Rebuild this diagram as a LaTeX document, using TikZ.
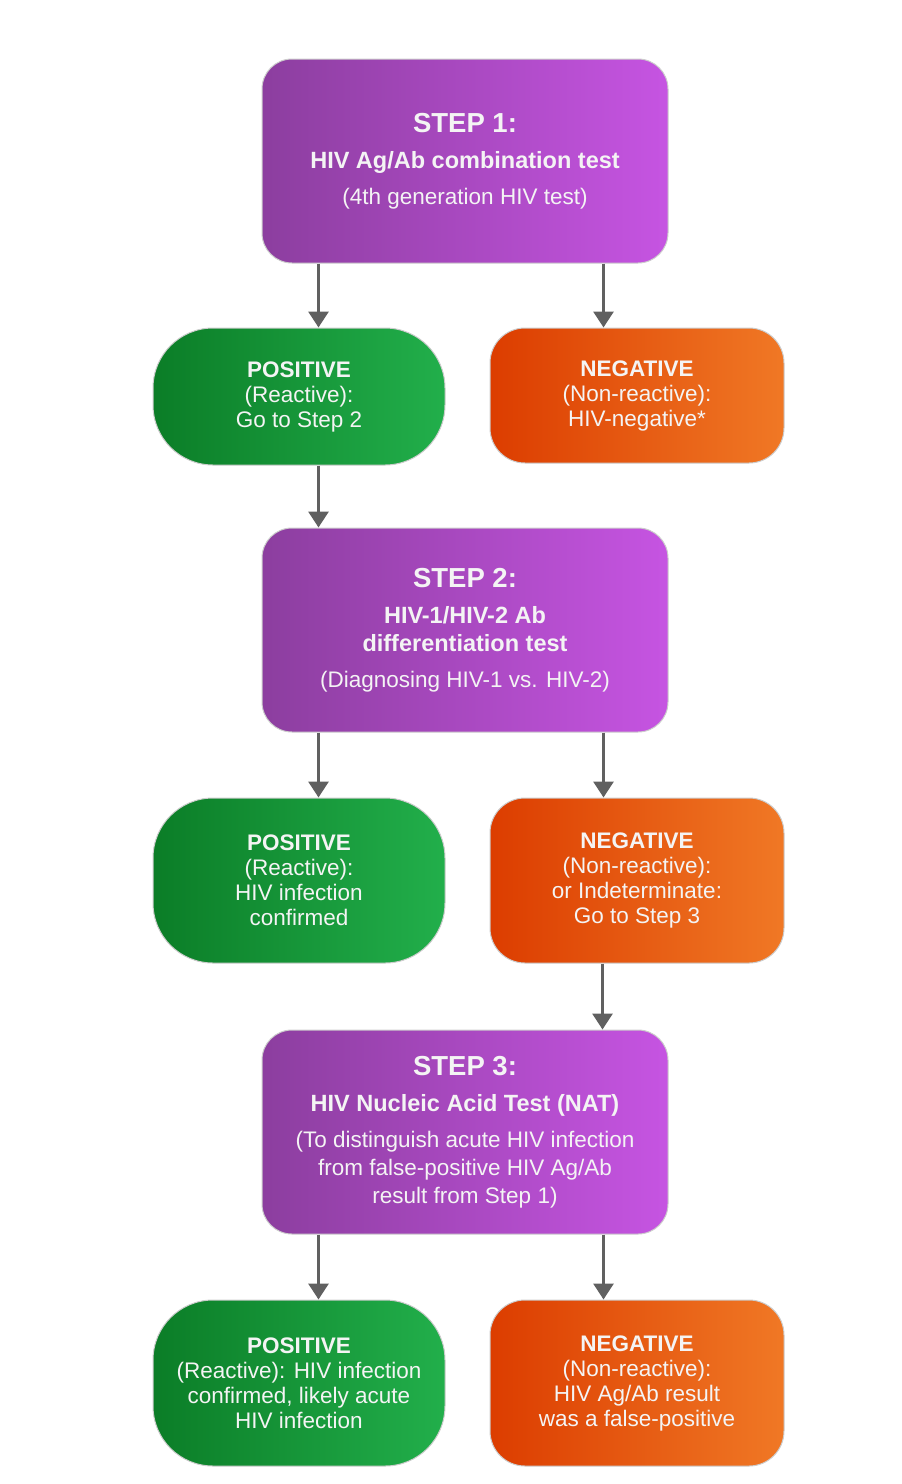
\documentclass[tikz,border=0pt]{standalone}
\usepackage{fontspec}
\setmainfont{Liberation Sans}
\usetikzlibrary{arrows.meta,calc}

\definecolor{stepdark}{HTML}{8C3E9F}
\definecolor{steplight}{HTML}{C654E2}
\definecolor{posdark}{HTML}{0B7D27}
\definecolor{poslight}{HTML}{22AF4B}
\definecolor{negdark}{HTML}{DC3D00}
\definecolor{neglight}{HTML}{F07825}
\definecolor{arrowgray}{HTML}{606060}
\definecolor{boxtext}{HTML}{F4F4F4}

\tikzset{
    stepbox/.style={draw=black!20, line width=1pt, left color=stepdark, right color=steplight,
        rounded corners=30pt, minimum width=406pt, minimum height=204pt,
        text=boxtext, align=center, font=\fontsize{22.5}{28}\selectfont},
    posbox/.style={draw=black!20, line width=1pt, left color=posdark, right color=poslight,
        rounded corners=60pt, minimum width=292pt,
        text=boxtext, align=center, font=\fontsize{22.5}{25}\selectfont},
    negbox/.style={draw=black!20, line width=1pt, left color=negdark, right color=neglight,
        rounded corners=35pt, minimum width=294pt,
        text=boxtext, align=center, font=\fontsize{22.5}{25}\selectfont},
    flow/.style={draw=arrowgray, line width=3pt, -{Triangle[width=20pt,length=16pt]}}
}

\newcommand{\steptitle}[1]{{\fontsize{27.5}{28}\selectfont\bfseries #1}}
\newcommand{\stepname}[1]{{\fontsize{23.5}{28}\selectfont\bfseries #1}}

\begin{document}
\begin{tikzpicture}[x=1pt,y=-1pt]
            \useasboundingbox (0,0) rectangle (902,1484);

            % step 1
            \node[stepbox] at (465,161) (STEP1) {\steptitle{STEP 1:}\\[8pt]
                \stepname{HIV Ag/Ab combination test}\\[8pt]
                (4th generation HIV test)};
            \node[posbox, minimum height=137pt] at (299,396.5) (POS1) {\textbf{POSITIVE}\\
                (Reactive):\\Go to Step 2};
            \node[negbox, minimum height=135pt] at (637,395.5) (NEG1) {\textbf{NEGATIVE}\\
                (Non-reactive):\\HIV-negative*};

            % step 2
            \node[stepbox] at (465,630) (STEP2) {\steptitle{STEP 2:}\\[8pt]
                \stepname{HIV-1/HIV-2 Ab}\\\stepname{differentiation test}\\[8pt]
                (Diagnosing HIV-1 vs. HIV-2)};
            \node[posbox, minimum height=165pt] at (299,880.5) (POS2) {\textbf{POSITIVE}\\
                (Reactive):\\HIV infection\\confirmed};
            \node[negbox, minimum height=165pt] at (637,880.5) (NEG2) {\textbf{NEGATIVE}\\
                (Non-reactive):\\or Indeterminate:\\Go to Step 3};

            % step 3
            \node[stepbox] at (465,1132) (STEP3) {\steptitle{STEP 3:}\\[8pt]
                \stepname{HIV Nucleic Acid Test (NAT)}\\[8pt]
                (To distinguish acute HIV infection\\from false-positive HIV Ag/Ab\\result from Step 1)};
            \node[posbox, minimum height=166pt] at (299,1383) (POS3) {\textbf{POSITIVE}\\
                (Reactive): HIV infection\\confirmed, likely acute\\HIV infection};
            \node[negbox, minimum height=166pt] at (637,1383) (NEG3) {\textbf{NEGATIVE}\\
                (Non-reactive):\\HIV Ag/Ab result\\was a false-positive};

            \draw[flow] ([xshift=57pt]STEP1.south west) -- ([xshift=57pt]STEP1.south west |- POS1.north);
            \draw[flow] ([xshift=-65pt]STEP1.south east) -- ([xshift=-65pt]STEP1.south east |- NEG1.north);
            \draw[flow] ([xshift=166pt]POS1.south west) -- ([xshift=166pt]POS1.south west |- STEP2.north);

            \draw[flow] ([xshift=57pt]STEP2.south west) -- ([xshift=57pt]STEP2.south west |- POS2.north);
            \draw[flow] ([xshift=-65pt]STEP2.south east) -- ([xshift=-65pt]STEP2.south east |- NEG2.north);
            \draw[flow] ([xshift=113pt]NEG2.south west) -- ([xshift=113pt]NEG2.south west |- STEP3.north);

            \draw[flow] ([xshift=57pt]STEP3.south west) -- ([xshift=57pt]STEP3.south west |- POS3.north);
            \draw[flow] ([xshift=-65pt]STEP3.south east) -- ([xshift=-65pt]STEP3.south east |- NEG3.north);
\end{tikzpicture}
\end{document}
